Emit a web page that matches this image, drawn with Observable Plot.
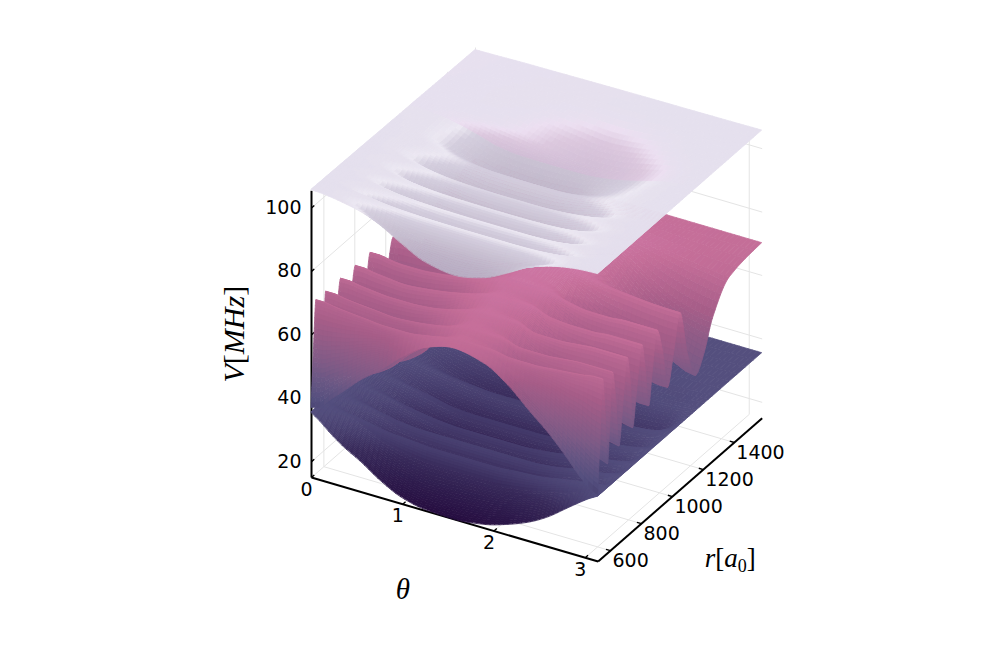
<!DOCTYPE html>
<html><head><meta charset="utf-8">
<style>html,body{margin:0;padding:0;background:#fff}svg{display:block}</style>
<script src="https://cdn.jsdelivr.net/npm/d3@7"></script>
<script src="https://cdn.jsdelivr.net/npm/@observablehq/plot@0.6"></script>
</head><body><div id="chart"></div>
<script>
// ---- tick labels and axis extents ----
const thetaTicks = [0, 1, 2, 3];
const rTicks = [600, 800, 1000, 1200, 1400];
const vTicks = [20, 40, 60, 80, 100];
const thetaExtent = [0, Math.PI];
const rExtent = [520, 1580];
const vExtent = [15, 105.4];

// ---- surface values (MHz) ----
const thetaGrid = [0, .1, .2, .35, .55, .75, 1, 1.25, 1.57, 1.9, 2.15, 2.4, 2.6, 2.8, 2.95, 3.05, 3.14159];

const rLower = [520, 552, 584, 615, 658, 711, 746, 806, 850, 902, 973, 1050, 1156, 1209, 1262, 1368, 1474, 1580];
const vLower = [
 [35.5,33.5,31,27.8,24.5,20.6,17,15.4,15,16.2,18.3,21.2,24.5,28.8,32,34,35.5],
 [35.5,34.8,33.8,32,29.5,26.5,24,23,23,23.3,24.5,26.5,29,31.5,33.5,34.8,35.5],
 [35.5,35.4,35,34.5,33.5,32.5,32,31.5,31.5,31.5,32,32.5,33.5,34.5,35,35.4,35.5],
 [35.5,35,34,32,29,27,25.5,25,25,25,25.5,27,28.5,30,32,34,35.5],
 [35.5,35.4,35,34.5,33.5,32.5,32,32,32,32,32,32.5,33.5,34.5,35,35.4,35.5],
 [35.5,35,34,32.4,29.5,27.5,26,25.5,25.5,25.5,26,27.5,29,30,32,34,35.5],
 [35.5,35.4,35,34.5,33.5,32.5,31.5,31,31,31,31.5,32.5,33.5,34.5,35,35.4,35.5],
 [35.5,35,34.2,32.8,30,28,26.5,26,26,26,26.5,28,29.5,30.5,32,34,35.5],
 [35.5,35.4,35,34.5,33.5,32.5,31,30.6,30.6,30.6,31,32.5,33.5,34.5,35,35.4,35.5],
 [35.5,35.1,34.4,33,30.5,28.5,27,26.5,26.5,26.5,27,28.5,30,31,32.5,34.2,35.5],
 [35.5,35.4,35.2,34.8,34,33.2,32.5,32,32,32,32.5,33.2,34,34.6,35,35.4,35.5],
 [35.5,35.2,34.8,33.8,31.5,29.5,28,27.5,27.5,27.5,28,29,29.5,29.5,31,34,35.5],
 [35.5,35.5,35.3,35,34.5,33.8,33,32.5,32.5,32.8,33.5,34,34.5,34.8,35,35.3,35.5],
 [35.5,35.5,35.3,35,34.5,34,33.5,33.3,33.3,33.5,34,34.5,34.8,34.6,34.8,35.3,35.5],
 [35.5,35.5,35.4,35.2,35,34.6,34.3,34,34,34.3,34.7,35,35.2,35.2,35.3,35.4,35.5],
 [35.5,35.5,35.5,35.4,35.4,35.3,35.2,35.1,35.1,35.2,35.3,35.4,35.4,35.5,35.5,35.5,35.5],
 [35.5,35.5,35.5,35.5,35.5,35.5,35.5,35.4,35.4,35.4,35.5,35.5,35.5,35.5,35.5,35.5,35.5],
 [35.5,35.5,35.5,35.5,35.5,35.5,35.5,35.5,35.5,35.5,35.5,35.5,35.5,35.5,35.5,35.5,35.5]
];

const rMiddle = [520,536,552,568,584,600,615,637,658,684,711,732,746,774,806,827,850,875,902,939,973,1013,1050,1103,1156,1209,1262,1368,1474,1580];
const vMiddle = [
 [37,38,41,45,50.5,55,61.5,66.5,69,67,62.5,56,51,45,40,37.5,36],
 [55,55,56,57.5,60,62,65,67.8,69.5,68.5,66,64,62,59,57,55,54],
 [69.5,69.5,69,68.5,68,67.5,67.5,68.5,70,70,69,69,69.5,70,70.5,71,71],
 [59.8,60.2,60.3,60.5,60.8,61.2,63.6,66.8,70,68.9,65.2,62.8,61.7,61.3,60.8,60.7,60.4],
 [44,45,46,47.5,49.5,53,60,65,70,68,61,54,49.5,47,45,44,43],
 [56.8,57.2,57.5,58,58.5,60,63.8,67,70.5,69.5,65.3,61.8,59.5,58.8,57.8,57.2,56.8],
 [69.5,69.5,69,68.5,68,67.5,68,69,71,71,69.5,69.5,70,70.5,70.5,70.5,70.5],
 [60.6,60.8,61,61,61.2,61.6,63.8,67.5,71,70.3,66,63.2,62.4,62,61.4,61.2,61],
 [46,46.5,47.5,48.5,50,52,57,66,71,69,61,53,50,48,46.5,46,45.5],
 [57.8,58,58.2,58.5,59,60,62.7,68,71.5,70.5,65.5,61.5,60.2,59.5,58.8,58.5,58.2],
 [69.5,69.5,69,68.5,68,68,68.5,70,72,72,70,70,70.5,71,71,71,71],
 [61,61.1,61,61.3,61.5,62.3,64.1,68.6,72,71.3,66.7,63.9,63.1,62.8,62.5,62.3,62],
 [47,47.5,48,49.5,51,53,57,67,72,70,62,54,51,49.5,48.5,48,47.5],
 [58.2,58.5,58.5,59,59.5,60.8,63.2,69,72.5,71.5,66.5,62.2,60.8,60.2,59.8,59.5,59.2],
 [69.5,69.5,69,68.5,68,68.5,69.5,71,73,73,71,70.5,70.5,71,71,71,71],
 [61.7,61.9,61.8,61.9,62.1,63.2,65.3,69.5,72.8,72.2,67.7,64.6,63.7,63.4,63.2,63,63],
 [49,49.5,50,51,52.5,54.5,58.5,68,72.5,71,63,55,52.5,51,50.5,50,50],
 [59.2,59.5,59.5,59.8,60.5,61.8,64.2,69.8,73,72.3,67.5,63,61.8,61.2,61,60.8,60.8],
 [69.5,69.5,69,68.5,68.5,69,70,71.5,73.5,73.5,72,71,71,71.5,71.5,71.5,71.5],
 [62.1,62.3,62.2,62.2,62.8,63.9,66.2,70.2,73.5,72.8,68.7,65.3,64.4,64.1,63.8,63.5,63.5],
 [50,50.5,51,52,53.5,55.5,60,69,73.5,72,64,56,53.5,52,51,50.5,50.5],
 [59,59.5,59.8,60.2,61.2,62.8,65.5,70.8,73.8,73,68.5,64,62.5,61.5,60.9,60.6,60.6],
 [68,68.5,68.5,68.5,69,70,71,72.5,74,74,73,72,71.5,71,70.8,70.7,70.7],
 [57,58,60,62,65,68,71,73,75,75,72,65,60,56,54.5,54.5,55],
 [47,48,51,55,60,65,70,73,75.5,75,70,62,56,51,48.5,47,46.5],
 [52,53,55.5,58.5,62.5,66.5,71,73.5,75.5,75,71,64,59,55,53,52,51.5],
 [60,60.5,62,63.5,66,69,71.5,73.5,75,75,72.5,68,64.5,62,60.8,60.2,60],
 [68.5,68.5,68.5,69,70,71,72,72.5,73,73,72.5,71.5,70.5,69.5,69,68.5,68.3],
 [69.8,69.8,69.8,70,70,70.5,71,71,71,71,71,70.5,70.3,70,69.8,69.7,69.7],
 [70.2,70.2,70.2,70.2,70.2,70.2,70.2,70.2,70.2,70.2,70.2,70.2,70.2,70.2,70.2,70.2,70.2]
];

const rUpper = [520,552,584,615,658,711,746,806,850,902,973,1050,1156,1209,1283,1368,1474,1580];
const vUpper = [
 [105.7,105.6,105.3,104.6,103.3,101,97,93.5,92,94,97.5,101.5,103.5,104.8,105.4,105.6,105.7],
 [105.65,105.5,105,104,102,99.5,97.5,96.5,96.5,97,98.5,100.5,102.8,104.7,105.4,105.6,105.7],
 [105.6,105.5,105.4,105.1,104.6,104,103.6,103.4,103.3,103.3,103.3,103.5,104,104.8,105.4,105.6,105.7],
 [105.6,105.4,104.9,103.8,101.6,99.2,96.5,95,94.5,95,97,99.5,102,104,105,105.5,105.7],
 [105.55,105.5,105.4,105.1,104.6,104,103.6,103.4,103.3,103.3,103.3,103.5,104,104.8,105.4,105.6,105.7],
 [105.5,105.4,104.9,103.8,101.8,99.5,97,95.5,95,95.5,97.5,100,102.2,104.1,105,105.5,105.7],
 [105.45,105.4,105.3,105,104.4,103.8,103.3,103.1,103,103,103.1,103.4,104,104.8,105.4,105.6,105.7],
 [105.4,105.3,104.9,104,102.1,99.9,97.5,96,95.5,96,98,100.4,102.4,104.2,105.1,105.5,105.7],
 [105.35,105.3,105.2,105,104.3,103.5,102.8,102.5,102.4,102.4,102.6,103.2,103.9,104.8,105.4,105.6,105.7],
 [105.3,105.2,104.9,104.1,102.4,100.3,98,96.5,96,96.5,98.5,100.8,102.6,104.3,105.1,105.5,105.7],
 [105.2,105.2,105.1,104.9,104.2,103.2,102.2,101.8,101.7,101.7,102,103,103.8,104.8,105.4,105.6,105.7],
 [105.15,105.1,104.9,104.3,102.8,100.8,98.5,97,96.5,97,99.5,102,103.5,104.8,105.3,105.5,105.7],
 [105.04,105,104.9,104.5,103.5,102,100,99.3,99.2,99.3,100,101.5,103,104.5,105.2,105.5,105.7],
 [105,105,105,104.9,104.8,104.6,104,102.8,100.8,99.8,100.2,101.5,103,104.5,105.3,105.6,105.7],
 [104.9,104.95,105,105,105.1,105.1,104.8,103.5,102,101,101.5,103,104.2,105.2,105.6,105.7,105.7],
 [104.8,104.85,104.9,105,105.1,105.2,105.2,104.8,104,103.3,103.8,104.6,105.3,105.7,105.7,105.7,105.7],
 [104.7,104.75,104.8,104.9,105,105.1,105.2,105.3,105.4,105.5,105.5,105.6,105.6,105.7,105.7,105.7,105.7],
 [104.6,104.65,104.7,104.8,104.95,105,105.1,105.2,105.3,105.4,105.45,105.5,105.55,105.6,105.65,105.7,105.7]
];

// ---- colour ramp: the 200-range is the pinker far part of the upper sheet ----
const rampValues = [15,22,27,31,35.5,42,47,60,70,76,92,95,99,102,103.3,104.5,105.7, 199,202,203.6,204.5,205.7];
const rampColors = ["#260d40","#2f1d4e","#382a5a","#463d6d","#544f7e","#6a5784","#7e5b86","#a65d88","#c46e98","#d27aa9","#b8adc3","#bdb3c7","#c9c1d2","#d4cede","#ece8f2","#e6e1ee","#e5e0ee","#cfbcd4","#dcc8de","#ecdff1","#e7e0ef","#e5e0ee"];

// ---- oblique camera onto the unit cube: screen weights for theta, r and V ----
const thetaAcross = 0.866, rAcross = 0.4955;
const thetaDrop = 0.2538, rRise = 0.433, vRise = 0.866;
const tT = t => (t - thetaExtent[0]) / (thetaExtent[1] - thetaExtent[0]);
const tR = r => (r - rExtent[0]) / (rExtent[1] - rExtent[0]);
const tV = v => (v - vExtent[0]) / (vExtent[1] - vExtent[0]);
const pu = (t, r) => thetaAcross * tT(t) + rAcross * tR(r);
const pv = (t, r, v) => -thetaDrop * tT(t) + rRise * tR(r) + vRise * tV(v);

// smooth (monotone) resampling, used only to draw a typed grid as a fine mesh
function slopes(xs, ys) {
  const n = xs.length, d = [], m = new Array(n);
  for (let i = 0; i < n - 1; i++) d.push((ys[i + 1] - ys[i]) / (xs[i + 1] - xs[i]));
  m[0] = d[0]; m[n - 1] = d[n - 2];
  for (let i = 1; i < n - 1; i++) m[i] = d[i - 1] * d[i] <= 0 ? 0 : 2 * d[i - 1] * d[i] / (d[i - 1] + d[i]);
  return m;
}
function hermite(xs, ys, m, x) {
  let i = d3.bisectRight(xs, x) - 1;
  i = Math.max(0, Math.min(xs.length - 2, i));
  const h = xs[i + 1] - xs[i], s = (x - xs[i]) / h, s2 = s * s, s3 = s2 * s;
  return (2 * s3 - 3 * s2 + 1) * ys[i] + (s3 - 2 * s2 + s) * h * m[i] + (-2 * s3 + 3 * s2) * ys[i + 1] + (s3 - s2) * h * m[i + 1];
}
function meshOf(rows, grid, tCount, tone, stepSize) {
  const ft = d3.range(tCount + 1).map(i => thetaExtent[0] + (thetaExtent[1] - thetaExtent[0]) * i / tCount);
  const across = grid.map(row => { const m = slopes(thetaGrid, row); return ft.map(t => hermite(thetaGrid, row, m, t)); });
  const fr = [];
  rows.forEach((r, i) => {
    if (i === rows.length - 1) return;
    const jump = d3.max(ft, (_, c) => Math.abs(across[i + 1][c] - across[i][c]));
    const sub = Math.max(2, Math.min(12, Math.ceil(jump / stepSize)));
    for (let k = 0; k < sub; k++) fr.push(r + (rows[i + 1] - r) * k / sub);
  });
  fr.push(rows[rows.length - 1]);
  const cols = ft.map((_, c) => { const ys = across.map(a => a[c]); const m = slopes(rows, ys); return fr.map(r => hermite(rows, ys, m, r)); });
  const out = [];
  let q = 0;
  for (let j = fr.length - 2; j >= 0; j--) {           // far rows first
    for (let c = 0; c < ft.length - 1; c++) {          // small theta (far) first
      const a = cols[c][j], b = cols[c + 1][j], e = cols[c][j + 1], f = cols[c + 1][j + 1];
      const v = tone((a + b + e + f) / 4, Math.abs(e + f - a - b) / 2 / (tR(fr[j + 1]) - tR(fr[j])), fr[j]);
      out.push({q, v, x1: pu(ft[c], fr[j]), y1: pv(ft[c], fr[j], a), x2: pu(ft[c + 1], fr[j]), y2: pv(ft[c + 1], fr[j], b)});
      out.push({q, v, x1: pu(ft[c], fr[j + 1]), y1: pv(ft[c], fr[j + 1], e), x2: pu(ft[c + 1], fr[j + 1]), y2: pv(ft[c + 1], fr[j + 1], f)});
      q++;
    }
  }
  return out;
}
const plainTone = v => v;
const middleTone = (v, steep) => v - Math.min(4, steep * 0.01);
const upperTone = (v, steep, r) => r >= 1156 ? v + 100 : v;

const surfaceMark = d => Plot.area(d, {x1: "x1", y1: "y1", x2: "x2", y2: "y2", z: "q", fill: "v", stroke: "v", strokeWidth: 0.8});

const [t0, t1] = thetaExtent, [r0, r1] = rExtent, [v0, v1] = vExtent;
const seg = (a, b) => [{x: pu(a[0], a[1]), y: pv(a[0], a[1], a[2])}, {x: pu(b[0], b[1]), y: pv(b[0], b[1], b[2])}];
const gridSegs = [
  ...thetaTicks.map(t => seg([t, r0, v0], [t, r1, v0])),
  ...rTicks.map(r => seg([t0, r, v0], [t1, r, v0])),
  ...rTicks.map(r => seg([t0, r, v0], [t0, r, v1])),
  ...vTicks.map(v => seg([t0, r0, v], [t0, r1, v])),
  ...thetaTicks.map(t => seg([t, r1, v0], [t, r1, v1])),
  ...vTicks.map(v => seg([t0, r1, v], [t1, r1, v]))
];
const axisSegs = [seg([t0, r0, v0], [t0, r0, v1]), seg([t0, r0, v0], [t1, r0, v0]), seg([t1, r0, v0], [t1, r1, v0])];
const tickSegs = [
  ...thetaTicks.map(t => seg([t, r0, v0], [t, r0 + 18, v0])),
  ...rTicks.map(r => seg([t1, r, v0], [t1 - 0.05, r, v0])),
  ...vTicks.map(v => seg([t0, r0, v], [t0, r0 + 18, v]))
];
const lines = (segs, o) => Plot.link(segs, {x1: d => d[0].x, y1: d => d[0].y, x2: d => d[1].x, y2: d => d[1].y, ...o});
const tf = {fontFamily: "DejaVu Sans", fontSize: 19, fill: "#000"};
const at = (t, r, v) => ({x: pu(t, r), y: pv(t, r, v)});
const titleFont = {fontFamily: "Liberation Serif", fontStyle: "italic", fill: "#000"};

const plot = Plot.plot({
  width: 997, height: 664, margin: 0,
  x: {domain: [0, 1], range: [311, 642], axis: null},
  y: {domain: [0, 1], range: [477, 146], axis: null},
  color: {type: "linear", domain: rampValues, range: rampColors, clamp: true, legend: false},
  style: {background: "#fff"},
  marks: [
    lines(gridSegs, {stroke: "#e4e4e4", strokeWidth: 1}),
    lines(axisSegs, {stroke: "#000", strokeWidth: 2}),
    lines(tickSegs, {stroke: "#000", strokeWidth: 1.4}),
    surfaceMark(meshOf(rLower, vLower, 64, plainTone, 0.6)),
    surfaceMark(meshOf(rMiddle, vMiddle, 64, middleTone, 1.5)),
    surfaceMark(meshOf(rUpper, vUpper, 64, upperTone, 0.6)),
    Plot.text(vTicks.map(v => ({v, ...at(t0, r0, v)})), {x: "x", y: "y", text: d => String(d.v), textAnchor: "end", dx: -10, ...tf}),
    Plot.text(thetaTicks.map(v => ({v, ...at(v, r0, v0)})), {x: "x", y: "y", text: d => String(d.v), dx: -5, dy: 12, ...tf}),
    Plot.text(rTicks.map(v => ({v, ...at(t1, v, v0)})), {x: "x", y: "y", text: d => String(d.v), textAnchor: "start", dx: 2, dy: 10.5, ...tf}),
    Plot.text([{l: "V[MHz]", ...at(t0, r0, (v0 + v1) / 2)}], {x: "x", y: "y", text: "l", rotate: -90, dx: -77, fontSize: 30, ...titleFont}),
    Plot.text([{l: "θ", ...at((t0 + t1) / 2, r0, v0)}], {x: "x", y: "y", text: "l", dx: -52, dy: 70, fontSize: 29, ...titleFont}),
    Plot.text([{l: "r[a0]", ...at(t1, (r0 + r1) / 2, v0)}], {x: "x", y: "y", text: "l", dx: 50, dy: 69, fontSize: 27, ...titleFont})
  ]
});
// upright brackets and a subscript in the two math titles
const styled = {
  "V[MHz]": [["V", 1], ["[", 0], ["MHz", 1], ["]", 0]],
  "r[a0]": [["r", 1], ["[", 0], ["a", 1], ["0", 0, 1], ["]", 0, -1]]
};
d3.select(plot).selectAll("text").each(function () {
  const parts = styled[this.textContent];
  if (!parts) return;
  const el = d3.select(this).text(null);
  for (const [s, italic, shift] of parts) {
    const sp = el.append("tspan").text(s).attr("font-style", italic ? "italic" : "normal");
    if (shift === 1) sp.attr("dy", 5).attr("font-size", 18);
    if (shift === -1) sp.attr("dy", -5);
  }
});
document.getElementById("chart").append(plot);
</script></body></html>
